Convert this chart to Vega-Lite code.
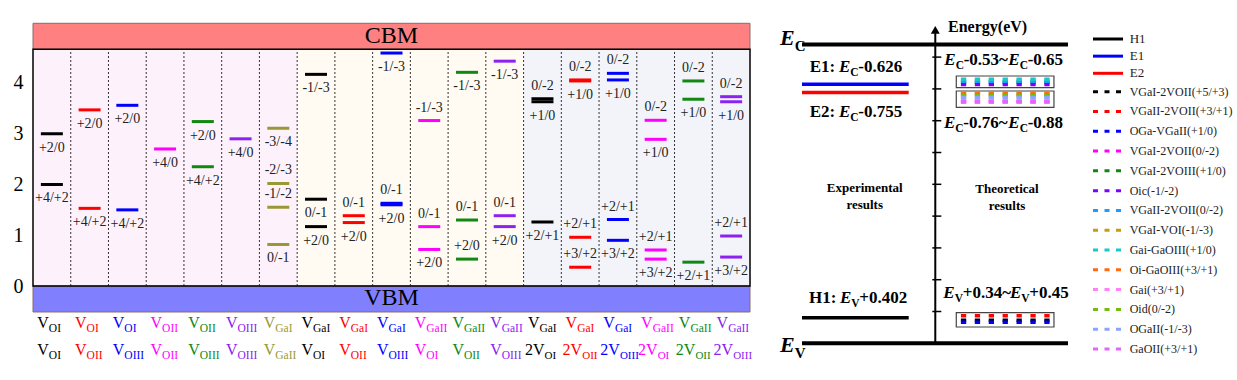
{
"$schema": "https://vega.github.io/schema/vega-lite/v6.json",
"padding": 0,
"spacing": 0,
"config": {"view": {"stroke": null}, "font": "Liberation Serif"},
"resolve": {"scale": {"color": "independent", "fill": "independent"}},
"datasets": {
"levels": [
{"col":1,"e":3.0,"lab":"+2/0","side":"below"},
{"col":1,"e":2.0,"lab":"+4/+2","side":"below"},
{"col":2,"e":3.47,"lab":"+2/0","side":"below"},
{"col":2,"e":1.53,"lab":"+4/+2","side":"below"},
{"col":3,"e":3.56,"lab":"+2/0","side":"below"},
{"col":3,"e":1.5,"lab":"+4/+2","side":"below"},
{"col":4,"e":2.7,"lab":"+4/0","side":"below"},
{"col":5,"e":3.24,"lab":"+2/0","side":"below"},
{"col":5,"e":2.35,"lab":"+4/+2","side":"below"},
{"col":6,"e":2.9,"lab":"+4/0","side":"below"},
{"col":7,"e":3.11,"lab":"-3/-4","side":"below"},
{"col":7,"e":2.02,"lab":"-2/-3","side":"above"},
{"col":7,"e":1.55,"lab":"-1/-2","side":"above"},
{"col":7,"e":0.82,"lab":"0/-1","side":"below"},
{"col":8,"e":4.17,"lab":"-1/-3","side":"below"},
{"col":8,"e":1.71,"lab":"0/-1","side":"below"},
{"col":8,"e":1.17,"lab":"+2/0","side":"below"},
{"col":9,"e":1.385,"lab":"0/-1","side":"above"},
{"col":9,"e":1.25,"lab":"+2/0","side":"below"},
{"col":10,"e":4.59,"lab":"-1/-3","side":"below"},
{"col":10,"e":1.63,"lab":"0/-1","side":"above"},
{"col":10,"e":1.6,"lab":"+2/0","side":"below"},
{"col":11,"e":3.26,"lab":"-1/-3","side":"above"},
{"col":11,"e":1.17,"lab":"0/-1","side":"above"},
{"col":11,"e":0.72,"lab":"+2/0","side":"below"},
{"col":12,"e":4.21,"lab":"-1/-3","side":"below"},
{"col":12,"e":1.3,"lab":"0/-1","side":"above"},
{"col":12,"e":0.53,"lab":"+2/0","side":"above"},
{"col":13,"e":4.43,"lab":"-1/-3","side":"below"},
{"col":13,"e":1.385,"lab":"0/-1","side":"above"},
{"col":13,"e":1.17,"lab":"+2/0","side":"below"},
{"col":14,"e":3.69,"lab":"0/-2","side":"above"},
{"col":14,"e":3.63,"lab":"+1/0","side":"below"},
{"col":14,"e":1.26,"lab":"+2/+1","side":"below"},
{"col":15,"e":4.06,"lab":"0/-2","side":"above"},
{"col":15,"e":4.04,"lab":"+1/0","side":"below"},
{"col":15,"e":0.96,"lab":"+2/+1","side":"above"},
{"col":15,"e":0.37,"lab":"+3/+2","side":"above"},
{"col":16,"e":4.19,"lab":"0/-2","side":"above"},
{"col":16,"e":4.06,"lab":"+1/0","side":"below"},
{"col":16,"e":1.31,"lab":"+2/+1","side":"above"},
{"col":16,"e":0.9,"lab":"+3/+2","side":"below"},
{"col":17,"e":3.265,"lab":"0/-2","side":"above"},
{"col":17,"e":2.89,"lab":"+1/0","side":"below"},
{"col":17,"e":0.71,"lab":"+2/+1","side":"above"},
{"col":17,"e":0.53,"lab":"+3/+2","side":"below"},
{"col":18,"e":4.04,"lab":"0/-2","side":"above"},
{"col":18,"e":3.68,"lab":"+1/0","side":"below"},
{"col":18,"e":0.47,"lab":"+2/+1","side":"below"},
{"col":19,"e":3.73,"lab":"0/-2","side":"above"},
{"col":19,"e":3.63,"lab":"+1/0","side":"below"},
{"col":19,"e":0.985,"lab":"+2/+1","side":"above"},
{"col":19,"e":0.57,"lab":"+3/+2","side":"below"}
],
"cols": [
{"col":1,"top":"OI","bm":"V","bs":"OI"},
{"col":2,"top":"OI","bm":"V","bs":"OII"},
{"col":3,"top":"OI","bm":"V","bs":"OIII"},
{"col":4,"top":"OII","bm":"V","bs":"OII"},
{"col":5,"top":"OII","bm":"V","bs":"OIII"},
{"col":6,"top":"OIII","bm":"V","bs":"OIII"},
{"col":7,"top":"GaI","bm":"V","bs":"GaII"},
{"col":8,"top":"GaI","bm":"V","bs":"OI"},
{"col":9,"top":"GaI","bm":"V","bs":"OII"},
{"col":10,"top":"GaI","bm":"V","bs":"OIII"},
{"col":11,"top":"GaII","bm":"V","bs":"OI"},
{"col":12,"top":"GaII","bm":"V","bs":"OII"},
{"col":13,"top":"GaII","bm":"V","bs":"OIII"},
{"col":14,"top":"GaI","bm":"2V","bs":"OI"},
{"col":15,"top":"GaI","bm":"2V","bs":"OII"},
{"col":16,"top":"GaI","bm":"2V","bs":"OIII"},
{"col":17,"top":"GaII","bm":"2V","bs":"OI"},
{"col":18,"top":"GaII","bm":"2V","bs":"OII"},
{"col":19,"top":"GaII","bm":"2V","bs":"OIII"}
],
"dividers": [{"x":1.5},{"x":2.5},{"x":3.5},{"x":4.5},{"x":5.5},{"x":6.5},{"x":7.5},{"x":8.5},{"x":9.5},{"x":10.5},{"x":11.5},{"x":12.5},{"x":13.5},{"x":14.5},{"x":15.5},{"x":16.5},{"x":17.5},{"x":18.5}],
"groups": [{"g":"g1","from":0.5,"to":7.5},{"g":"g2","from":7.5,"to":13.5},{"g":"g3","from":13.5,"to":19.5}],
"bands": [{"band":"CBM","e":4.664,"e2":5.176},{"band":"VBM","e":-0.512,"e2":0}],
"boxes": [{"e":4.019,"e2":4.203},{"e":3.711,"e2":3.967},{"e":0.256,"e2":0.481}],
"exp": [{"name":"H1","e":0.402,"n":1},{"name":"E1","e":4.074,"n":2},{"name":"E2","e":3.945,"n":3}],
"defects": [
{"name":"VGaI-2VOII(+5/+3)","e":0.362,"n":4},
{"name":"VGaII-2VOII(+3/+1)","e":0.434,"n":5},
{"name":"OGa-VGaII(+1/0)","e":0.33,"n":6},
{"name":"VGaI-2VOII(0/-2)","e":3.8,"n":7},
{"name":"VGaI-2VOIII(+1/0)","e":4.105,"n":8},
{"name":"Oic(-1/-2)","e":4.068,"n":9},
{"name":"VGaII-2VOII(0/-2)","e":4.12,"n":10},
{"name":"VGaI-VOI(-1/-3)","e":3.915,"n":11},
{"name":"Gai-GaOIII(+1/0)","e":4.151,"n":12},
{"name":"Oi-GaOIII(+3/+1)","e":3.931,"n":13},
{"name":"Gai(+3/+1)","e":3.83,"n":14},
{"name":"Oid(0/-2)","e":3.893,"n":15},
{"name":"OGaII(-1/-3)","e":3.865,"n":16},
{"name":"GaOII(+3/+1)","e":3.799,"n":17}
],
"edges": [{"edge":"EC","e":4.7},{"edge":"EV","e":0}],
"edgeLabels": [{"e":4.69,"sub":"C"},{"e":-0.132,"sub":"V"}],
"ticks": [{"e":0.5},{"e":1},{"e":1.5},{"e":2},{"e":2.5},{"e":3},{"e":3.5},{"e":4},{"e":4.5}],
"notes": [
{"x":29.48,"e":4.27,"lead":"E1:","sub":"C","t":"-0.626"},
{"x":29.48,"e":3.563,"lead":"E2:","sub":"C","t":"-0.755"},
{"x":29.8,"e":0.629,"lead":"H1:","sub":"V","t":"+0.402"},
{"x":61.42,"e":4.376,"lead":"","sub":"C","t":"-0.53~"},
{"x":80.82,"e":4.376,"lead":"","sub":"C","t":"-0.65"},
{"x":61.3,"e":3.381,"lead":"","sub":"C","t":"-0.76~"},
{"x":80.82,"e":3.381,"lead":"","sub":"C","t":"-0.88"},
{"x":61.12,"e":0.708,"lead":"","sub":"V","t":"+0.34~"},
{"x":81.3,"e":0.708,"lead":"","sub":"V","t":"+0.45"}
],
"texts": [
{"x":33.85,"e":2.442,"t":"Experimental"},
{"x":33.85,"e":2.175,"t":"results"},
{"x":76.97,"e":2.426,"t":"Theoretical"},
{"x":76.97,"e":2.159,"t":"results"}
]
},
"hconcat": [
{
"width": 717, "height": 380,
"layer": [
{"data":{"name":"groups"},"mark":{"type":"rect"},
 "encoding":{"x":{"field":"from","type":"quantitative","scale":{"domain":[0.5,19.5],"nice":false,"zero":false},"axis":null},"x2":{"field":"to"},
 "y":{"datum":0,"type":"quantitative","scale":{"domain":[-1.852,5.635],"nice":false,"zero":false},"axis":{"values":[0,1,2,3,4],"title":null,"domain":false,"ticks":false,"grid":false,"labelFontSize":20,"labelColor":"#000000","labelPadding":10,"minExtent":33,"maxExtent":33,"labelFlush":false}},"y2":{"datum":4.664},
 "fill":{"field":"g","type":"nominal","scale":{"domain":["g1","g2","g3","CBM","VBM"],"range":["#fdf2fb","#fffaf2","#f3f4f9","#ff8080","#8080ff"]},"legend":null}}},
{"data":{"name":"dividers"},"mark":{"type":"rule","strokeDash":[2,2],"strokeWidth":0.8,"color":"#000000"},
 "encoding":{"x":{"field":"x","type":"quantitative","scale":{"domain":[0.5,19.5],"nice":false,"zero":false},"axis":null},
 "y":{"datum":0,"type":"quantitative","scale":{"domain":[-1.852,5.635],"nice":false,"zero":false},"axis":{"values":[0,1,2,3,4],"title":null,"domain":false,"ticks":false,"grid":false,"labelFontSize":20,"labelColor":"#000000","labelPadding":10,"minExtent":33,"maxExtent":33,"labelFlush":false}},"y2":{"datum":4.664}}},
{"data":{"name":"bands"},"mark":{"type":"rect","stroke":"#8a6a6a","strokeWidth":1},
 "encoding":{"x":{"datum":0.5,"type":"quantitative","scale":{"domain":[0.5,19.5],"nice":false,"zero":false},"axis":null},"x2":{"datum":19.5},
 "y":{"field":"e","type":"quantitative","scale":{"domain":[-1.852,5.635],"nice":false,"zero":false},"axis":{"values":[0,1,2,3,4],"title":null,"domain":false,"ticks":false,"grid":false,"labelFontSize":20,"labelColor":"#000000","labelPadding":10,"minExtent":33,"maxExtent":33,"labelFlush":false}},"y2":{"field":"e2"},
 "fill":{"field":"band","type":"nominal","scale":{"domain":["g1","g2","g3","CBM","VBM"],"range":["#fdf2fb","#fffaf2","#f3f4f9","#ff8080","#8080ff"]},"legend":null}}},
{"data":{"values":[{}]},"mark":{"type":"rect","fill":"transparent","stroke":"#000000","strokeWidth":1.5},
 "encoding":{"x":{"datum":0.5,"type":"quantitative","scale":{"domain":[0.5,19.5],"nice":false,"zero":false},"axis":null},"x2":{"datum":19.5},
 "y":{"datum":0,"type":"quantitative","scale":{"domain":[-1.852,5.635],"nice":false,"zero":false},"axis":{"values":[0,1,2,3,4],"title":null,"domain":false,"ticks":false,"grid":false,"labelFontSize":20,"labelColor":"#000000","labelPadding":10,"minExtent":33,"maxExtent":33,"labelFlush":false}},"y2":{"datum":4.664}}},
{"data":{"name":"bands"},"mark":{"type":"text","fontSize":24,"dy":-13.5,"baseline":"middle","align":"center","color":"#000000"},
 "encoding":{"x":{"datum":10,"type":"quantitative","scale":{"domain":[0.5,19.5],"nice":false,"zero":false},"axis":null},
 "y":{"field":"e","type":"quantitative","scale":{"domain":[-1.852,5.635],"nice":false,"zero":false},"axis":{"values":[0,1,2,3,4],"title":null,"domain":false,"ticks":false,"grid":false,"labelFontSize":20,"labelColor":"#000000","labelPadding":10,"minExtent":33,"maxExtent":33,"labelFlush":false}},"text":{"field":"band"}}},
{"data":{"name":"levels"},"mark":{"type":"tick","orient":"horizontal","size":22,"thickness":3,"opacity":1},
 "encoding":{"x":{"field":"col","type":"quantitative","scale":{"domain":[0.5,19.5],"nice":false,"zero":false},"axis":null},
 "y":{"field":"e","type":"quantitative","scale":{"domain":[-1.852,5.635],"nice":false,"zero":false},"axis":{"values":[0,1,2,3,4],"title":null,"domain":false,"ticks":false,"grid":false,"labelFontSize":20,"labelColor":"#000000","labelPadding":10,"minExtent":33,"maxExtent":33,"labelFlush":false}},
 "color":{"field":"col","type":"nominal","scale":{"domain":[1,2,3,4,5,6,7,8,9,10,11,12,13,14,15,16,17,18,19],"range":["#000000","#ff0000","#0000ff","#ff00ff","#118811","#8b22f0","#999933","#000000","#ff0000","#0000ff","#ff00ff","#118811","#8b22f0","#000000","#ff0000","#0000ff","#ff00ff","#118811","#8b22f0"]},"legend":null}}},
{"data":{"name":"levels"},"transform":[{"filter":"datum.side === 'below'"}],"mark":{"type":"text","fontSize":14,"dy":14,"baseline":"middle","align":"center","color":"#222222"},
 "encoding":{"x":{"field":"col","type":"quantitative","scale":{"domain":[0.5,19.5],"nice":false,"zero":false},"axis":null},
 "y":{"field":"e","type":"quantitative","scale":{"domain":[-1.852,5.635],"nice":false,"zero":false},"axis":{"values":[0,1,2,3,4],"title":null,"domain":false,"ticks":false,"grid":false,"labelFontSize":20,"labelColor":"#000000","labelPadding":10,"minExtent":33,"maxExtent":33,"labelFlush":false}},"text":{"field":"lab"}}},
{"data":{"name":"levels"},"transform":[{"filter":"datum.side === 'above'"}],"mark":{"type":"text","fontSize":14,"dy":-13,"baseline":"middle","align":"center","color":"#222222"},
 "encoding":{"x":{"field":"col","type":"quantitative","scale":{"domain":[0.5,19.5],"nice":false,"zero":false},"axis":null},
 "y":{"field":"e","type":"quantitative","scale":{"domain":[-1.852,5.635],"nice":false,"zero":false},"axis":{"values":[0,1,2,3,4],"title":null,"domain":false,"ticks":false,"grid":false,"labelFontSize":20,"labelColor":"#000000","labelPadding":10,"minExtent":33,"maxExtent":33,"labelFlush":false}},"text":{"field":"lab"}}},
{"data":{"name":"cols"},"mark":{"type":"text","fontSize":16,"align":"right","baseline":"alphabetic","dx":-3},
 "encoding":{"x":{"field":"col","type":"quantitative","scale":{"domain":[0.5,19.5],"nice":false,"zero":false},"axis":null},
 "y":{"datum":-0.834,"type":"quantitative","scale":{"domain":[-1.852,5.635],"nice":false,"zero":false},"axis":{"values":[0,1,2,3,4],"title":null,"domain":false,"ticks":false,"grid":false,"labelFontSize":20,"labelColor":"#000000","labelPadding":10,"minExtent":33,"maxExtent":33,"labelFlush":false}},"text":{"value":"V"},
 "color":{"field":"col","type":"nominal","scale":{"domain":[1,2,3,4,5,6,7,8,9,10,11,12,13,14,15,16,17,18,19],"range":["#000000","#ff0000","#0000ff","#ff00ff","#118811","#8b22f0","#999933","#000000","#ff0000","#0000ff","#ff00ff","#118811","#8b22f0","#000000","#ff0000","#0000ff","#ff00ff","#118811","#8b22f0"]},"legend":null}}},
{"data":{"name":"cols"},"mark":{"type":"text","fontSize":11.5,"align":"left","baseline":"alphabetic","dx":-3,"dy":3.5},
 "encoding":{"x":{"field":"col","type":"quantitative","scale":{"domain":[0.5,19.5],"nice":false,"zero":false},"axis":null},
 "y":{"datum":-0.834,"type":"quantitative","scale":{"domain":[-1.852,5.635],"nice":false,"zero":false},"axis":{"values":[0,1,2,3,4],"title":null,"domain":false,"ticks":false,"grid":false,"labelFontSize":20,"labelColor":"#000000","labelPadding":10,"minExtent":33,"maxExtent":33,"labelFlush":false}},"text":{"field":"top"},
 "color":{"field":"col","type":"nominal","scale":{"domain":[1,2,3,4,5,6,7,8,9,10,11,12,13,14,15,16,17,18,19],"range":["#000000","#ff0000","#0000ff","#ff00ff","#118811","#8b22f0","#999933","#000000","#ff0000","#0000ff","#ff00ff","#118811","#8b22f0","#000000","#ff0000","#0000ff","#ff00ff","#118811","#8b22f0"]},"legend":null}}},
{"data":{"name":"cols"},"transform":[{"filter":"datum.bm === 'V'"}],"mark":{"type":"text","fontSize":16,"align":"right","baseline":"alphabetic","dx":-3},
 "encoding":{"x":{"field":"col","type":"quantitative","scale":{"domain":[0.5,19.5],"nice":false,"zero":false},"axis":null},
 "y":{"datum":-1.36,"type":"quantitative","scale":{"domain":[-1.852,5.635],"nice":false,"zero":false},"axis":{"values":[0,1,2,3,4],"title":null,"domain":false,"ticks":false,"grid":false,"labelFontSize":20,"labelColor":"#000000","labelPadding":10,"minExtent":33,"maxExtent":33,"labelFlush":false}},"text":{"field":"bm"},
 "color":{"field":"col","type":"nominal","scale":{"domain":[1,2,3,4,5,6,7,8,9,10,11,12,13,14,15,16,17,18,19],"range":["#000000","#ff0000","#0000ff","#ff00ff","#118811","#8b22f0","#999933","#000000","#ff0000","#0000ff","#ff00ff","#118811","#8b22f0","#000000","#ff0000","#0000ff","#ff00ff","#118811","#8b22f0"]},"legend":null}}},
{"data":{"name":"cols"},"transform":[{"filter":"datum.bm === 'V'"}],"mark":{"type":"text","fontSize":11.5,"align":"left","baseline":"alphabetic","dx":-3,"dy":3.5},
 "encoding":{"x":{"field":"col","type":"quantitative","scale":{"domain":[0.5,19.5],"nice":false,"zero":false},"axis":null},
 "y":{"datum":-1.36,"type":"quantitative","scale":{"domain":[-1.852,5.635],"nice":false,"zero":false},"axis":{"values":[0,1,2,3,4],"title":null,"domain":false,"ticks":false,"grid":false,"labelFontSize":20,"labelColor":"#000000","labelPadding":10,"minExtent":33,"maxExtent":33,"labelFlush":false}},"text":{"field":"bs"},
 "color":{"field":"col","type":"nominal","scale":{"domain":[1,2,3,4,5,6,7,8,9,10,11,12,13,14,15,16,17,18,19],"range":["#000000","#ff0000","#0000ff","#ff00ff","#118811","#8b22f0","#999933","#000000","#ff0000","#0000ff","#ff00ff","#118811","#8b22f0","#000000","#ff0000","#0000ff","#ff00ff","#118811","#8b22f0"]},"legend":null}}},
{"data":{"name":"cols"},"transform":[{"filter":"datum.bm === '2V'"}],"mark":{"type":"text","fontSize":16,"align":"right","baseline":"alphabetic","dx":2},
 "encoding":{"x":{"field":"col","type":"quantitative","scale":{"domain":[0.5,19.5],"nice":false,"zero":false},"axis":null},
 "y":{"datum":-1.36,"type":"quantitative","scale":{"domain":[-1.852,5.635],"nice":false,"zero":false},"axis":{"values":[0,1,2,3,4],"title":null,"domain":false,"ticks":false,"grid":false,"labelFontSize":20,"labelColor":"#000000","labelPadding":10,"minExtent":33,"maxExtent":33,"labelFlush":false}},"text":{"field":"bm"},
 "color":{"field":"col","type":"nominal","scale":{"domain":[1,2,3,4,5,6,7,8,9,10,11,12,13,14,15,16,17,18,19],"range":["#000000","#ff0000","#0000ff","#ff00ff","#118811","#8b22f0","#999933","#000000","#ff0000","#0000ff","#ff00ff","#118811","#8b22f0","#000000","#ff0000","#0000ff","#ff00ff","#118811","#8b22f0"]},"legend":null}}},
{"data":{"name":"cols"},"transform":[{"filter":"datum.bm === '2V'"}],"mark":{"type":"text","fontSize":11,"align":"left","baseline":"alphabetic","dx":2,"dy":3.5},
 "encoding":{"x":{"field":"col","type":"quantitative","scale":{"domain":[0.5,19.5],"nice":false,"zero":false},"axis":null},
 "y":{"datum":-1.36,"type":"quantitative","scale":{"domain":[-1.852,5.635],"nice":false,"zero":false},"axis":{"values":[0,1,2,3,4],"title":null,"domain":false,"ticks":false,"grid":false,"labelFontSize":20,"labelColor":"#000000","labelPadding":10,"minExtent":33,"maxExtent":33,"labelFlush":false}},"text":{"field":"bs"},
 "color":{"field":"col","type":"nominal","scale":{"domain":[1,2,3,4,5,6,7,8,9,10,11,12,13,14,15,16,17,18,19],"range":["#000000","#ff0000","#0000ff","#ff00ff","#118811","#8b22f0","#999933","#000000","#ff0000","#0000ff","#ff00ff","#118811","#8b22f0","#000000","#ff0000","#0000ff","#ff00ff","#118811","#8b22f0"]},"legend":null}}}
]
},
{
"width": 330, "height": 380,
"layer": [
{"data":{"name":"boxes"},"mark":{"type":"rect","fill":"#ffffff","stroke":"#444444","strokeWidth":1.2},
 "encoding":{"x":{"datum":61.6,"type":"quantitative","scale":{"domain":[0,100],"nice":false,"zero":false},"axis":null},"x2":{"datum":91.2},
 "y":{"field":"e","type":"quantitative","scale":{"domain":[-0.577,5.398],"nice":false,"zero":false},"axis":null},"y2":{"field":"e2"}}},
{"data":{"name":"defects"},"mark":{"type":"rule","strokeWidth":3.5,"strokeDash":[5.3,8.6]},
 "encoding":{"x":{"datum":63,"type":"quantitative","scale":{"domain":[0,100],"nice":false,"zero":false},"axis":null},"x2":{"datum":90},
 "y":{"field":"e","type":"quantitative","scale":{"domain":[-0.577,5.398],"nice":false,"zero":false},"axis":null},
 "color":{"field":"name","type":"nominal","scale":{"domain":["H1","E1","E2","VGaI-2VOII(+5/+3)","VGaII-2VOII(+3/+1)","OGa-VGaII(+1/0)","VGaI-2VOII(0/-2)","VGaI-2VOIII(+1/0)","Oic(-1/-2)","VGaII-2VOII(0/-2)","VGaI-VOI(-1/-3)","Gai-GaOIII(+1/0)","Oi-GaOIII(+3/+1)","Gai(+3/+1)","Oid(0/-2)","OGaII(-1/-3)","GaOII(+3/+1)"],"range":["#000000","#0000ff","#ff0000","#000000","#ff0000","#0000ff","#ff00ff","#118811","#8000ff","#1e9bff","#c89b14","#19c8c8","#ff6a13","#ff80ff","#77bb11","#8ea2ff","#e066ff"]},"legend":null}}},
{"data":{"name":"edges"},"mark":{"type":"rule","strokeWidth":4,"color":"#000000"},
 "encoding":{"x":{"datum":14.85,"type":"quantitative","scale":{"domain":[0,100],"nice":false,"zero":false},"axis":null},"x2":{"datum":95.45},
 "y":{"field":"e","type":"quantitative","scale":{"domain":[-0.577,5.398],"nice":false,"zero":false},"axis":null}}},
{"data":{"name":"exp"},"mark":{"type":"rule","strokeWidth":3.5},
 "encoding":{"x":{"datum":14.85,"type":"quantitative","scale":{"domain":[0,100],"nice":false,"zero":false},"axis":null},"x2":{"datum":47.18},
 "y":{"field":"e","type":"quantitative","scale":{"domain":[-0.577,5.398],"nice":false,"zero":false},"axis":null},
 "color":{"field":"name","type":"nominal","scale":{"domain":["H1","E1","E2","VGaI-2VOII(+5/+3)","VGaII-2VOII(+3/+1)","OGa-VGaII(+1/0)","VGaI-2VOII(0/-2)","VGaI-2VOIII(+1/0)","Oic(-1/-2)","VGaII-2VOII(0/-2)","VGaI-VOI(-1/-3)","Gai-GaOIII(+1/0)","Oi-GaOIII(+3/+1)","Gai(+3/+1)","Oid(0/-2)","OGaII(-1/-3)","GaOII(+3/+1)"],"range":["#000000","#0000ff","#ff0000","#000000","#ff0000","#0000ff","#ff00ff","#118811","#8000ff","#1e9bff","#c89b14","#19c8c8","#ff6a13","#ff80ff","#77bb11","#8ea2ff","#e066ff"]},"legend":null}}},
{"data":{"values":[{}]},"mark":{"type":"rule","strokeWidth":2,"color":"#000000"},
 "encoding":{"x":{"datum":55.24,"type":"quantitative","scale":{"domain":[0,100],"nice":false,"zero":false},"axis":null},
 "y":{"datum":0,"type":"quantitative","scale":{"domain":[-0.577,5.398],"nice":false,"zero":false},"axis":null},"y2":{"datum":4.93}}},
{"data":{"values":[{}]},"mark":{"type":"point","shape":"triangle-up","filled":true,"size":80,"color":"#000000","opacity":1},
 "encoding":{"x":{"datum":55.24,"type":"quantitative","scale":{"domain":[0,100],"nice":false,"zero":false},"axis":null},
 "y":{"datum":4.93,"type":"quantitative","scale":{"domain":[-0.577,5.398],"nice":false,"zero":false},"axis":null}}},
{"data":{"name":"ticks"},"mark":{"type":"tick","orient":"horizontal","size":9,"thickness":1.5,"color":"#000000","opacity":1},
 "encoding":{"x":{"datum":55.7,"type":"quantitative","scale":{"domain":[0,100],"nice":false,"zero":false},"axis":null},
 "y":{"field":"e","type":"quantitative","scale":{"domain":[-0.577,5.398],"nice":false,"zero":false},"axis":null}}},
{"data":{"name":"notes"},"mark":{"type":"text","fontSize":17,"fontWeight":"bold","align":"right","baseline":"alphabetic","dx":-15,"color":"#000000"},
 "encoding":{"x":{"field":"x","type":"quantitative","scale":{"domain":[0,100],"nice":false,"zero":false},"axis":null},
 "y":{"field":"e","type":"quantitative","scale":{"domain":[-0.577,5.398],"nice":false,"zero":false},"axis":null},"text":{"field":"lead"}}},
{"data":{"name":"notes"},"mark":{"type":"text","fontSize":17,"fontWeight":"bold","fontStyle":"italic","align":"right","baseline":"alphabetic","color":"#000000"},
 "encoding":{"x":{"field":"x","type":"quantitative","scale":{"domain":[0,100],"nice":false,"zero":false},"axis":null},
 "y":{"field":"e","type":"quantitative","scale":{"domain":[-0.577,5.398],"nice":false,"zero":false},"axis":null},"text":{"value":"E"}}},
{"data":{"name":"notes"},"mark":{"type":"text","fontSize":11.5,"fontWeight":"bold","align":"left","baseline":"alphabetic","dy":4,"color":"#000000"},
 "encoding":{"x":{"field":"x","type":"quantitative","scale":{"domain":[0,100],"nice":false,"zero":false},"axis":null},
 "y":{"field":"e","type":"quantitative","scale":{"domain":[-0.577,5.398],"nice":false,"zero":false},"axis":null},"text":{"field":"sub"}}},
{"data":{"name":"notes"},"mark":{"type":"text","fontSize":17,"fontWeight":"bold","align":"left","baseline":"alphabetic","dx":8,"color":"#000000"},
 "encoding":{"x":{"field":"x","type":"quantitative","scale":{"domain":[0,100],"nice":false,"zero":false},"axis":null},
 "y":{"field":"e","type":"quantitative","scale":{"domain":[-0.577,5.398],"nice":false,"zero":false},"axis":null},"text":{"field":"t"}}},
{"data":{"name":"edgeLabels"},"mark":{"type":"text","fontSize":22,"fontWeight":"bold","fontStyle":"italic","align":"right","baseline":"alphabetic","color":"#000000"},
 "encoding":{"x":{"datum":12.64,"type":"quantitative","scale":{"domain":[0,100],"nice":false,"zero":false},"axis":null},
 "y":{"field":"e","type":"quantitative","scale":{"domain":[-0.577,5.398],"nice":false,"zero":false},"axis":null},"text":{"value":"E"}}},
{"data":{"name":"edgeLabels"},"mark":{"type":"text","fontSize":15,"fontWeight":"bold","align":"left","baseline":"alphabetic","dy":6,"color":"#000000"},
 "encoding":{"x":{"datum":12.64,"type":"quantitative","scale":{"domain":[0,100],"nice":false,"zero":false},"axis":null},
 "y":{"field":"e","type":"quantitative","scale":{"domain":[-0.577,5.398],"nice":false,"zero":false},"axis":null},"text":{"field":"sub"}}},
{"data":{"name":"texts"},"mark":{"type":"text","fontSize":13,"fontWeight":"bold","align":"center","baseline":"middle","color":"#000000"},
 "encoding":{"x":{"field":"x","type":"quantitative","scale":{"domain":[0,100],"nice":false,"zero":false},"axis":null},
 "y":{"field":"e","type":"quantitative","scale":{"domain":[-0.577,5.398],"nice":false,"zero":false},"axis":null},"text":{"field":"t"}}},
{"data":{"values":[{"t":"Energy(eV)"}]},"mark":{"type":"text","fontSize":16,"fontWeight":"bold","align":"left","baseline":"middle","color":"#000000"},
 "encoding":{"x":{"datum":59.1,"type":"quantitative","scale":{"domain":[0,100],"nice":false,"zero":false},"axis":null},
 "y":{"datum":4.978,"type":"quantitative","scale":{"domain":[-0.577,5.398],"nice":false,"zero":false},"axis":null},"text":{"field":"t"}}}
]
},
{
"width": 157, "height": 380,
"layer": [
{"data":{"name":"exp"},"mark":{"type":"rule","strokeWidth":3},
 "encoding":{"x":{"datum":6.37,"type":"quantitative","scale":{"domain":[0,100],"nice":false,"zero":false},"axis":null},"x2":{"datum":25.5},
 "y":{"field":"n","type":"quantitative","scale":{"domain":[1,3,4,17],"range":[39,73.3,91.7,349],"nice":false,"zero":false},"axis":null},
 "color":{"field":"name","type":"nominal","scale":{"domain":["H1","E1","E2","VGaI-2VOII(+5/+3)","VGaII-2VOII(+3/+1)","OGa-VGaII(+1/0)","VGaI-2VOII(0/-2)","VGaI-2VOIII(+1/0)","Oic(-1/-2)","VGaII-2VOII(0/-2)","VGaI-VOI(-1/-3)","Gai-GaOIII(+1/0)","Oi-GaOIII(+3/+1)","Gai(+3/+1)","Oid(0/-2)","OGaII(-1/-3)","GaOII(+3/+1)"],"range":["#000000","#0000ff","#ff0000","#000000","#ff0000","#0000ff","#ff00ff","#118811","#8000ff","#1e9bff","#c89b14","#19c8c8","#ff6a13","#ff80ff","#77bb11","#8ea2ff","#e066ff"]},"legend":null}}},
{"data":{"name":"defects"},"mark":{"type":"rule","strokeWidth":3,"strokeDash":[5,6.5]},
 "encoding":{"x":{"datum":6.37,"type":"quantitative","scale":{"domain":[0,100],"nice":false,"zero":false},"axis":null},"x2":{"datum":25.5},
 "y":{"field":"n","type":"quantitative","scale":{"domain":[1,3,4,17],"range":[39,73.3,91.7,349],"nice":false,"zero":false},"axis":null},
 "color":{"field":"name","type":"nominal","scale":{"domain":["H1","E1","E2","VGaI-2VOII(+5/+3)","VGaII-2VOII(+3/+1)","OGa-VGaII(+1/0)","VGaI-2VOII(0/-2)","VGaI-2VOIII(+1/0)","Oic(-1/-2)","VGaII-2VOII(0/-2)","VGaI-VOI(-1/-3)","Gai-GaOIII(+1/0)","Oi-GaOIII(+3/+1)","Gai(+3/+1)","Oid(0/-2)","OGaII(-1/-3)","GaOII(+3/+1)"],"range":["#000000","#0000ff","#ff0000","#000000","#ff0000","#0000ff","#ff00ff","#118811","#8000ff","#1e9bff","#c89b14","#19c8c8","#ff6a13","#ff80ff","#77bb11","#8ea2ff","#e066ff"]},"legend":null}}},
{"data":{"name":"exp"},"mark":{"type":"text","fontSize":13,"align":"left","baseline":"middle","color":"#222222"},
 "encoding":{"x":{"datum":29.75,"type":"quantitative","scale":{"domain":[0,100],"nice":false,"zero":false},"axis":null},
 "y":{"field":"n","type":"quantitative","scale":{"domain":[1,3,4,17],"range":[39,73.3,91.7,349],"nice":false,"zero":false},"axis":null},"text":{"field":"name"}}},
{"data":{"name":"defects"},"mark":{"type":"text","fontSize":12,"align":"left","baseline":"middle","color":"#222222"},
 "encoding":{"x":{"datum":29.75,"type":"quantitative","scale":{"domain":[0,100],"nice":false,"zero":false},"axis":null},
 "y":{"field":"n","type":"quantitative","scale":{"domain":[1,3,4,17],"range":[39,73.3,91.7,349],"nice":false,"zero":false},"axis":null},"text":{"field":"name"}}}
]
}
]
}
